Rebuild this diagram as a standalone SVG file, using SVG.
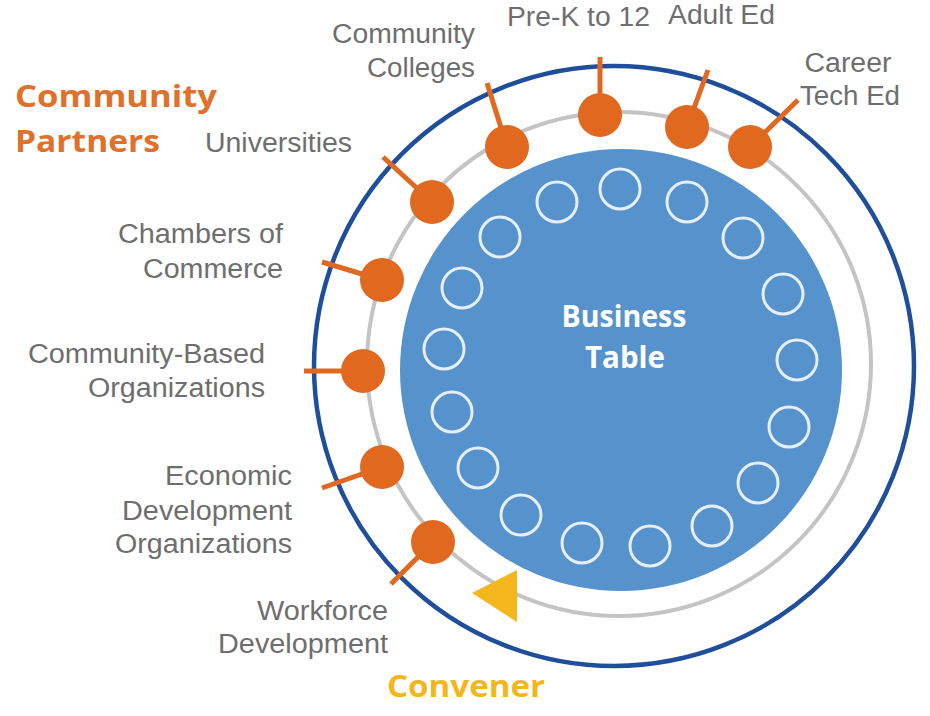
<svg xmlns="http://www.w3.org/2000/svg" width="930" height="716" viewBox="0 0 930 716">
<style>
.lbl{font-family:"Liberation Sans",Arial,sans-serif;font-size:27px;fill:#6e6e6e}
.r{text-anchor:end}
.m{text-anchor:middle}
.hd{font-family:"Open Sans","Lato",sans-serif;font-weight:bold;font-size:31px}
.seat{fill:none;stroke:#e6eff9;stroke-width:3}
.dot{fill:#e0681f}
.stub{stroke:#e0681f;stroke-width:5;stroke-linecap:butt}
</style>
<rect width="930" height="716" fill="#ffffff"/>
<g id="outer-ring"><circle cx="614" cy="366" r="300" fill="none" stroke="#1f4f9b" stroke-width="4.5"/></g>
<g id="convener-ring"><circle cx="619" cy="364" r="252" fill="none" stroke="#c4c4c4" stroke-width="4"/></g>
<g id="business-table">
<circle cx="621" cy="370" r="221" fill="#5692cc"/>
<circle class="seat" cx="620" cy="189" r="20"/>
<circle class="seat" cx="687" cy="202" r="20"/>
<circle class="seat" cx="743" cy="238" r="20"/>
<circle class="seat" cx="783" cy="294" r="20"/>
<circle class="seat" cx="797" cy="360" r="20"/>
<circle class="seat" cx="789" cy="427" r="20"/>
<circle class="seat" cx="758" cy="483" r="20"/>
<circle class="seat" cx="712" cy="526" r="20"/>
<circle class="seat" cx="650" cy="546" r="20"/>
<circle class="seat" cx="582" cy="543" r="20"/>
<circle class="seat" cx="521" cy="515" r="20"/>
<circle class="seat" cx="478" cy="468" r="20"/>
<circle class="seat" cx="452" cy="412" r="20"/>
<circle class="seat" cx="444" cy="349" r="20"/>
<circle class="seat" cx="462" cy="288" r="20"/>
<circle class="seat" cx="500" cy="237" r="20"/>
<circle class="seat" cx="557" cy="202" r="20"/>
<text class="hd m" x="624" y="327" fill="#ffffff" font-size="28" textLength="125" lengthAdjust="spacingAndGlyphs">Business</text>
<text class="hd m" x="625" y="368" fill="#ffffff" font-size="28" textLength="80" lengthAdjust="spacingAndGlyphs">Table</text>
</g>
<g id="connectors">
<line class="stub" x1="600" y1="57" x2="600" y2="115"/>
<line class="stub" x1="708" y1="70" x2="687" y2="127"/>
<line class="stub" x1="798" y1="100" x2="750" y2="147"/>
<line class="stub" x1="487" y1="83" x2="507" y2="147"/>
<line class="stub" x1="383" y1="157" x2="432" y2="202"/>
<line class="stub" x1="322" y1="262" x2="382" y2="280"/>
<line class="stub" x1="304" y1="371" x2="363" y2="371"/>
<line class="stub" x1="322" y1="488" x2="382" y2="467"/>
<line class="stub" x1="391" y1="584" x2="433" y2="542"/>
</g>
<g id="pre-k-12"><circle class="dot" cx="600" cy="115" r="22"/><text class="lbl" x="507" y="26" textLength="143" lengthAdjust="spacingAndGlyphs">Pre-K to 12</text></g>
<g id="adult-ed"><circle class="dot" cx="687" cy="127" r="22"/><text class="lbl" x="668" y="24" font-size="26" textLength="107" lengthAdjust="spacingAndGlyphs">Adult Ed</text></g>
<g id="career-tech-ed"><circle class="dot" cx="750" cy="147" r="22"/><text class="lbl m" x="848" y="72" textLength="87" lengthAdjust="spacingAndGlyphs">Career</text><text class="lbl m" x="850" y="105" textLength="100" lengthAdjust="spacingAndGlyphs">Tech Ed</text></g>
<g id="community-colleges"><circle class="dot" cx="507" cy="147" r="22"/><text class="lbl r" x="475" y="43" textLength="143" lengthAdjust="spacingAndGlyphs">Community</text><text class="lbl r" x="475" y="77" textLength="108" lengthAdjust="spacingAndGlyphs">Colleges</text></g>
<g id="universities"><circle class="dot" cx="432" cy="202" r="22"/><text class="lbl" x="205" y="152" textLength="147" lengthAdjust="spacingAndGlyphs">Universities</text></g>
<g id="chambers"><circle class="dot" cx="382" cy="280" r="22"/><text class="lbl r" x="283" y="243" textLength="165" lengthAdjust="spacingAndGlyphs">Chambers of</text><text class="lbl r" x="283" y="278" textLength="140" lengthAdjust="spacingAndGlyphs">Commerce</text></g>
<g id="cbo"><circle class="dot" cx="363" cy="371" r="22"/><text class="lbl r" x="265" y="363" textLength="237" lengthAdjust="spacingAndGlyphs">Community-Based</text><text class="lbl r" x="265" y="397" textLength="177" lengthAdjust="spacingAndGlyphs">Organizations</text></g>
<g id="econ-dev"><circle class="dot" cx="382" cy="467" r="22"/><text class="lbl r" x="292" y="485" textLength="127" lengthAdjust="spacingAndGlyphs">Economic</text><text class="lbl r" x="292" y="520" textLength="170" lengthAdjust="spacingAndGlyphs">Development</text><text class="lbl r" x="292" y="553" textLength="177" lengthAdjust="spacingAndGlyphs">Organizations</text></g>
<g id="workforce-dev"><circle class="dot" cx="433" cy="542" r="22"/><text class="lbl r" x="388" y="620" textLength="131" lengthAdjust="spacingAndGlyphs">Workforce</text><text class="lbl r" x="388" y="653" textLength="170" lengthAdjust="spacingAndGlyphs">Development</text></g>
<g id="community-partners"><text class="hd" x="15" y="107" fill="#e0702a" textLength="202" lengthAdjust="spacingAndGlyphs">Community</text><text class="hd" x="15" y="152" fill="#e0702a" textLength="145" lengthAdjust="spacingAndGlyphs">Partners</text></g>
<g id="convener"><polygon points="472,593 517,570 517,622" fill="#f3b71d"/><text class="hd" x="387" y="697" fill="#f3b71d" textLength="158" lengthAdjust="spacingAndGlyphs">Convener</text></g>
</svg>
